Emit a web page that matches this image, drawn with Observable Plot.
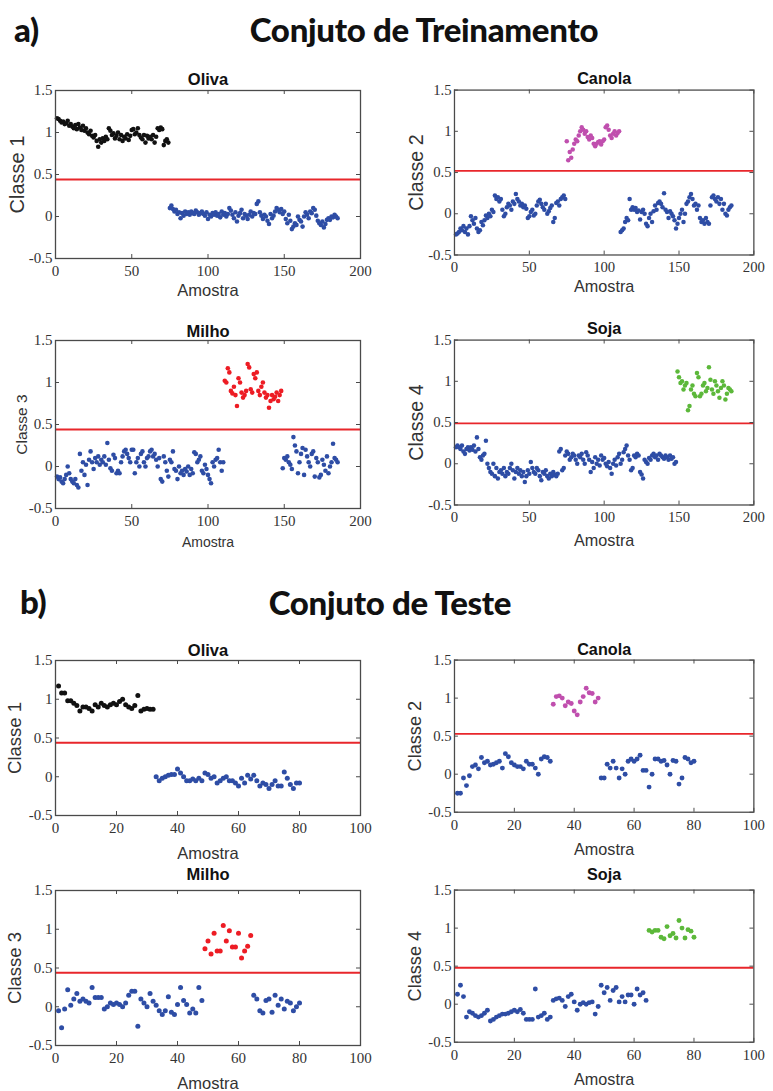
<!DOCTYPE html>
<html>
<head>
<meta charset="utf-8">
<script src="https://cdn.jsdelivr.net/npm/d3@7"></script>
<script src="https://cdn.jsdelivr.net/npm/@observablehq/plot@0.6"></script>
<style>
  html, body { margin: 0; padding: 0; background: #fff; }
  #page { position: relative; width: 773px; height: 1091px; overflow: hidden; }
  .hd { position: absolute; font-family: Lato, "Open Sans", sans-serif; font-weight: 900; font-size: 33px; line-height: 1; color: #111; white-space: nowrap; letter-spacing: -0.3px; }
  .panel { position: absolute; }
</style>
</head>
<body>
<div id="page"></div>
<script>
// ---- data ----
const classNames = ["Oliva", "Canola", "Milho", "Soja"];
const yLabels = ["Classe 1", "Classe 2", "Classe 3", "Classe 4"];
const trainCounts = [74, 36, 38, 37];
const testCounts = [32, 16, 16, 16];
const classColors = ["#111111", "#c04fae", "#ed1c24", "#5cb83a"];
const otherColor = "#2e4da5";
const trainThresholds = [0.44, 0.52, 0.44, 0.49];
const testThresholds = [0.44, 0.53, 0.44, 0.48];
const xTicksTrain = [0, 50, 100, 150, 200];
const xTicksTest = [0, 20, 40, 60, 80, 100];
const yTicks = [-0.5, 0, 0.5, 1, 1.5];

const trainOliva = [
1.17,1.16,1.14,1.12,1.13,1.10,1.11,1.14,1.08,1.10,
1.07,1.05,1.09,1.04,1.10,1.06,1.03,1.08,1.02,1.05,
1.00,0.98,1.02,0.96,0.94,0.97,0.90,0.83,0.92,0.88,
0.93,0.90,0.95,0.92,1.05,1.02,0.97,0.99,0.93,0.96,
1.00,0.92,0.97,0.90,0.95,0.93,0.98,0.91,0.96,1.03,
1.04,0.98,1.00,1.05,0.97,0.94,0.92,0.97,0.88,0.96,
0.93,0.95,0.92,0.97,0.88,0.95,1.05,1.03,1.06,1.04,
0.85,0.90,0.92,0.88,0.10,0.13,0.09,0.06,0.08,0.03,
0.05,-0.02,0.04,0.01,0.06,0.03,0.05,0.02,0.06,0.04,
0.03,0.07,0.05,0.02,0.04,0.06,0.03,0.01,0.05,-0.03,
0.02,0.00,0.04,0.02,0.05,0.01,0.03,-0.01,0.06,0.02,
0.04,0.00,0.03,0.10,0.07,0.02,-0.02,0.05,-0.06,0.01,
0.04,0.08,-0.02,0.03,0.01,-0.03,0.02,0.06,0.00,0.04,
0.03,0.15,0.18,0.05,0.01,-0.03,0.02,0.00,-0.05,-0.09,
0.03,-0.02,0.01,0.06,0.10,0.08,0.05,0.09,0.03,0.06,
-0.03,-0.08,0.02,-0.05,-0.15,-0.12,-0.08,-0.10,0.00,-0.04,
-0.06,-0.12,0.00,0.05,0.02,-0.02,0.06,0.04,0.10,0.08,
0.01,-0.05,-0.08,-0.10,-0.06,-0.13,-0.09,-0.04,-0.02,-0.04,
0.00,-0.01,0.02,0.00,-0.02];

const trainCanola = [
-0.25,-0.24,-0.22,-0.18,-0.20,-0.15,-0.22,-0.18,-0.25,-0.15,
-0.03,-0.08,-0.12,-0.05,-0.18,-0.22,-0.20,-0.10,-0.14,-0.08,
-0.02,-0.05,0.00,-0.03,0.05,0.02,0.22,0.18,0.20,0.15,
0.18,0.05,-0.03,0.00,0.08,0.12,0.10,0.05,0.15,0.12,
0.24,0.18,0.15,0.10,0.12,0.08,0.10,0.06,-0.05,-0.03,
0.02,0.05,-0.02,0.00,0.10,0.15,0.17,0.12,0.08,0.05,
0.12,0.00,0.03,0.07,0.10,-0.10,-0.05,0.13,0.15,0.10,
0.18,0.20,0.22,0.18,0.88,0.65,0.75,0.68,0.78,0.85,
0.90,0.88,0.95,1.00,1.05,1.02,0.97,1.00,0.93,0.90,
0.95,0.92,0.85,0.82,0.85,0.87,0.88,0.84,0.88,0.90,
1.05,1.07,1.02,0.95,0.92,0.97,1.00,0.95,0.98,1.00,
-0.22,-0.20,-0.18,-0.10,-0.05,-0.08,0.18,0.05,0.08,0.05,
0.07,0.02,0.04,-0.07,0.02,0.05,0.00,-0.12,-0.15,-0.05,
0.00,-0.10,0.03,0.10,0.05,0.13,0.15,0.12,0.08,0.25,
0.05,0.02,-0.05,0.03,0.00,-0.03,-0.08,-0.18,-0.12,-0.05,
0.00,0.05,-0.10,0.00,0.12,0.15,0.20,0.24,0.18,0.10,
0.12,0.05,0.10,-0.05,-0.10,-0.08,-0.12,-0.05,-0.10,-0.12,
0.10,0.20,0.22,0.18,0.15,0.20,0.12,0.18,0.05,0.12,
0.00,-0.02,0.05,0.08,0.10];

const trainMilho = [
-0.12,-0.15,-0.13,-0.18,-0.20,-0.15,-0.10,0.00,-0.08,-0.15,
-0.18,-0.20,-0.15,-0.22,-0.25,0.15,-0.05,0.05,-0.10,0.02,
-0.22,0.08,0.18,0.05,-0.03,0.10,0.05,0.12,0.02,0.08,
0.05,0.12,0.02,0.28,0.08,-0.02,-0.05,0.14,0.10,-0.08,
-0.05,-0.08,0.05,0.12,0.18,0.20,0.15,0.10,0.05,0.20,
0.20,-0.08,0.05,0.10,0.00,0.15,0.18,0.05,0.00,0.10,
0.12,0.18,0.20,0.12,0.15,0.08,0.00,0.10,-0.15,-0.18,
0.12,0.05,-0.05,-0.12,0.08,0.05,0.18,-0.03,-0.05,-0.15,
0.00,-0.08,-0.05,-0.10,-0.03,-0.06,0.00,-0.10,-0.03,-0.08,
0.17,0.15,0.05,0.08,0.12,-0.05,-0.08,0.02,-0.03,-0.10,
-0.15,-0.20,0.05,0.00,0.08,0.10,0.20,0.05,-0.05,0.05,
1.02,1.00,1.17,1.12,0.90,0.87,0.95,0.85,0.72,1.05,
1.00,0.88,0.82,0.85,0.90,1.22,1.18,0.92,0.88,1.10,
1.05,1.12,0.90,0.85,0.95,1.00,0.88,0.82,0.85,0.70,
0.78,0.85,0.80,0.83,0.88,0.78,0.85,0.90,-0.02,0.10,
0.08,0.12,0.05,0.02,-0.03,0.35,0.25,0.18,-0.08,0.05,
0.15,0.22,-0.10,0.20,0.12,0.05,0.00,0.15,0.18,-0.12,
0.10,0.05,-0.13,-0.10,0.08,0.02,-0.05,0.12,-0.08,0.00,
0.05,0.27,0.10,0.08,0.05];

const trainSoja = [
0.20,0.22,0.20,0.18,0.22,0.15,0.12,0.18,0.20,0.16,
0.20,0.17,0.22,0.15,0.32,0.18,0.08,0.05,0.10,0.12,
0.28,0.00,-0.05,-0.10,-0.12,0.00,-0.15,-0.05,-0.18,-0.10,
-0.08,-0.12,-0.05,-0.15,-0.10,-0.12,-0.05,0.00,-0.08,-0.18,
-0.10,-0.05,-0.12,-0.08,-0.15,-0.10,-0.22,-0.15,-0.08,-0.12,
0.02,-0.05,-0.10,-0.12,-0.05,-0.08,-0.15,-0.20,-0.10,-0.12,
-0.08,-0.15,-0.18,-0.12,-0.15,-0.10,-0.13,-0.15,-0.12,0.15,
0.18,-0.08,-0.05,0.10,0.15,0.12,0.05,0.08,0.12,0.10,
0.05,0.00,0.10,0.08,0.12,0.05,0.00,0.14,0.10,0.05,
-0.10,0.02,-0.05,0.08,0.00,0.05,-0.02,0.10,0.05,0.07,
0.00,-0.03,0.02,-0.05,-0.12,0.00,0.05,-0.02,0.08,0.12,
0.00,0.05,0.14,0.18,0.22,0.10,0.05,-0.08,-0.05,0.10,
0.08,0.12,0.10,-0.10,-0.13,-0.18,0.05,0.02,0.00,0.07,
0.05,0.10,0.12,0.08,0.10,0.05,0.12,0.10,0.08,0.06,
0.10,0.08,0.05,0.10,0.06,0.08,0.00,0.02,1.12,1.05,
0.98,1.00,0.90,0.95,0.98,0.65,0.70,0.90,0.95,0.85,
0.82,1.10,1.05,0.82,0.85,0.95,0.98,0.88,0.92,1.17,
1.02,0.90,0.85,1.00,0.95,0.88,0.80,0.92,1.00,0.95,
0.78,0.85,0.92,0.90,0.88];

const testOliva = [
1.17,1.08,1.08,0.98,0.98,0.95,0.92,0.85,0.90,0.90,
0.88,0.85,0.93,0.90,0.95,0.92,0.90,0.93,0.95,0.93,
0.97,1.00,0.93,0.90,0.88,0.92,1.05,0.85,0.87,0.88,
0.87,0.87,0.00,-0.05,-0.02,0.00,0.02,0.03,0.03,0.10,
0.05,0.00,-0.05,-0.05,-0.03,-0.05,-0.02,-0.05,0.05,0.03,
-0.02,0.00,-0.08,-0.05,-0.02,0.00,-0.05,-0.05,-0.08,-0.12,
-0.02,-0.08,0.02,-0.03,0.02,-0.05,-0.12,-0.08,-0.10,-0.15,
-0.10,-0.05,-0.12,-0.12,0.06,-0.02,-0.10,-0.15,-0.08,-0.08];

const testCanola = [
-0.25,-0.25,-0.05,-0.15,-0.02,0.10,0.12,0.07,0.22,0.15,
0.17,0.12,0.13,0.15,0.17,0.08,0.27,0.23,0.15,0.12,
0.10,0.10,0.07,0.17,0.13,0.13,0.08,0.00,0.20,0.23,
0.22,0.17,0.92,1.02,1.03,1.00,0.90,0.95,0.93,0.83,
0.78,0.95,1.02,1.13,1.07,1.06,0.95,1.00,-0.05,-0.05,
0.13,0.08,0.17,0.08,-0.05,0.07,0.00,0.17,0.20,0.17,
0.20,0.25,0.05,0.05,-0.17,0.00,0.20,0.20,0.17,0.18,
0.12,0.00,0.18,0.17,-0.13,-0.05,0.22,0.20,0.15,0.17];

const testMilho = [
-0.05,-0.27,-0.03,0.22,0.02,0.10,0.17,0.07,0.10,0.07,
0.05,0.25,0.12,0.12,0.12,-0.03,0.00,0.05,0.03,0.05,
0.03,0.00,0.05,0.15,0.20,0.20,-0.25,0.10,0.05,0.00,
0.17,0.07,0.02,-0.05,-0.10,-0.05,0.13,-0.07,-0.10,0.03,
0.25,0.08,0.03,-0.08,-0.03,-0.08,0.25,0.08,0.75,0.85,
0.68,0.95,0.72,0.72,1.05,0.85,0.98,0.77,0.77,0.95,
0.63,0.72,0.78,0.92,0.15,0.10,-0.05,-0.08,0.08,0.10,
-0.07,0.15,0.02,0.10,-0.03,0.07,0.05,-0.05,0.00,0.05];

const testSoja = [
0.13,0.25,0.10,-0.17,-0.10,-0.12,-0.15,-0.17,-0.15,-0.12,
-0.08,-0.22,-0.20,-0.17,-0.15,-0.13,-0.13,-0.12,-0.10,-0.08,
-0.10,-0.07,-0.12,-0.20,-0.20,-0.20,0.20,-0.17,-0.15,-0.12,
-0.20,-0.17,0.05,0.07,0.08,0.05,-0.03,0.10,0.13,0.03,
-0.08,0.00,0.02,0.00,0.02,0.03,-0.13,-0.03,0.25,0.15,
0.22,0.05,0.18,0.22,0.03,0.10,0.03,0.12,0.12,0.00,
0.20,0.12,0.15,0.05,0.97,0.95,0.97,0.97,0.88,0.86,
1.02,0.90,0.93,0.87,1.10,1.00,0.87,0.98,0.96,0.88];

// ---- layout ----
const page = document.getElementById("page");
function heading(text, x, y, center) {
  const d = document.createElement("div");
  d.className = "hd";
  d.textContent = text;
  d.style.left = x + "px";
  d.style.top = y + "px";
  if (center) d.style.transform = "translateX(-50%)";
  page.appendChild(d);
}
heading("a)", 14, 13, false);
heading("Conjuto de Treinamento", 424, 13, true);
heading("b)", 20, 585, false);
heading("Conjuto de Teste", 390, 586, true);

const FRAME_W = 305, ML = 55, MR = 20, MT = 22, MB = 50;
const SERIF = "'Liberation Serif', 'Times New Roman', serif";
const SANS = "'Liberation Sans', Arial, sans-serif";

function panel(opt) {
  const counts = opt.counts;
  const start = counts.slice(0, opt.k).reduce((a, b) => a + b, 0);
  const end = start + counts[opt.k];
  const data = opt.values.map((v, j) => ({i: j + 1, v, target: j + 1 > start && j + 1 <= end}));
  const H = opt.frameH;
  const edge = "#4a4a4a";
  const plot = Plot.plot({
    width: ML + FRAME_W + MR,
    height: MT + H + MB,
    marginLeft: ML, marginRight: MR, marginTop: MT, marginBottom: MB,
    x: {domain: [0, opt.xMax], label: null},
    y: {domain: [-0.5, 1.5], label: null},
    style: {fontFamily: SERIF, fontSize: "15px", color: "#333", background: "transparent", overflow: "visible"},
    marks: [
      Plot.ruleY([opt.threshold], {stroke: "#e8262b", strokeWidth: 2}),
      Plot.dot(data.filter(d => !d.target), {x: "i", y: "v", r: opt.r, fill: otherColor}),
      Plot.dot(data.filter(d => d.target), {x: "i", y: "v", r: opt.r, fill: classColors[opt.k]}),
      Plot.frame({stroke: edge, strokeWidth: 1.3}),
      Plot.tickX(opt.xTicks, {x: d => d, insetTop: H - 4, stroke: edge}),
      Plot.tickX(opt.xTicks, {x: d => d, insetBottom: H - 4, stroke: edge}),
      Plot.tickY(yTicks, {y: d => d, insetRight: FRAME_W - 4, stroke: edge}),
      Plot.tickY(yTicks, {y: d => d, insetLeft: FRAME_W - 4, stroke: edge}),
      Plot.axisX(opt.xTicks, {tickSize: 0, tickPadding: 7, tickFormat: d => String(d), label: null, fill: "#333", fontFamily: SERIF, fontSize: 15}),
      Plot.axisY(yTicks, {tickSize: 0, tickPadding: 3, tickFormat: d => String(d), label: null, fill: "#333", fontFamily: SERIF, fontSize: 15}),
      Plot.text([classNames[opt.k]], {frameAnchor: "top", dy: -opt.titleDy, lineAnchor: "middle", textAnchor: "middle", fontFamily: SANS, fontWeight: "bold", fontSize: 16.5, fill: "#111"}),
      Plot.text([yLabels[opt.k]], {frameAnchor: "left", dx: -(ML - opt.ylabX), rotate: -90, lineAnchor: "middle", textAnchor: "middle", fontFamily: SANS, fontSize: opt.ylabSize, fill: "#333"}),
      Plot.text(["Amostra"], {frameAnchor: "bottom", dy: opt.xlabDy, lineAnchor: "middle", textAnchor: "middle", fontFamily: SANS, fontSize: opt.xlabSize, fill: "#333"})
    ]
  });
  const wrap = document.createElement("div");
  wrap.className = "panel";
  wrap.style.left = opt.left + "px";
  wrap.style.top = (opt.frameTop - MT) + "px";
  wrap.appendChild(plot);
  page.appendChild(wrap);
}

const trainValues = [trainOliva, trainCanola, trainMilho, trainSoja];
const testValues = [testOliva, testCanola, testMilho, testSoja];
const trainFrameTops = [90, 90, 340, 340];
const testFrameTops = [660, 660, 890, 890];
const lefts = [0, 400, 0, 400];

for (let k = 0; k < 4; k++) {
  const small = k === 2;
  panel({
    k, values: trainValues[k], counts: trainCounts, threshold: trainThresholds[k],
    xTicks: xTicksTrain, xMax: 200, frameH: 168, r: 2.3,
    left: lefts[k], frameTop: trainFrameTops[k],
    titleDy: small ? 9 : 11,
    ylabSize: small ? 15.5 : 20, ylabX: small ? 22 : 17,
    xlabSize: small ? 14 : 16.5, xlabDy: small ? 34 : (k === 3 ? 37 : 32)
  });
  panel({
    k, values: testValues[k], counts: testCounts, threshold: testThresholds[k],
    xTicks: xTicksTest, xMax: 100, frameH: 155, r: 2.5,
    left: lefts[k], frameTop: testFrameTops[k],
    titleDy: k >= 2 ? 16 : 10,
    ylabSize: 18.5, ylabX: 15,
    xlabSize: 16.5, xlabDy: 38
  });
}
</script>
</body>
</html>
